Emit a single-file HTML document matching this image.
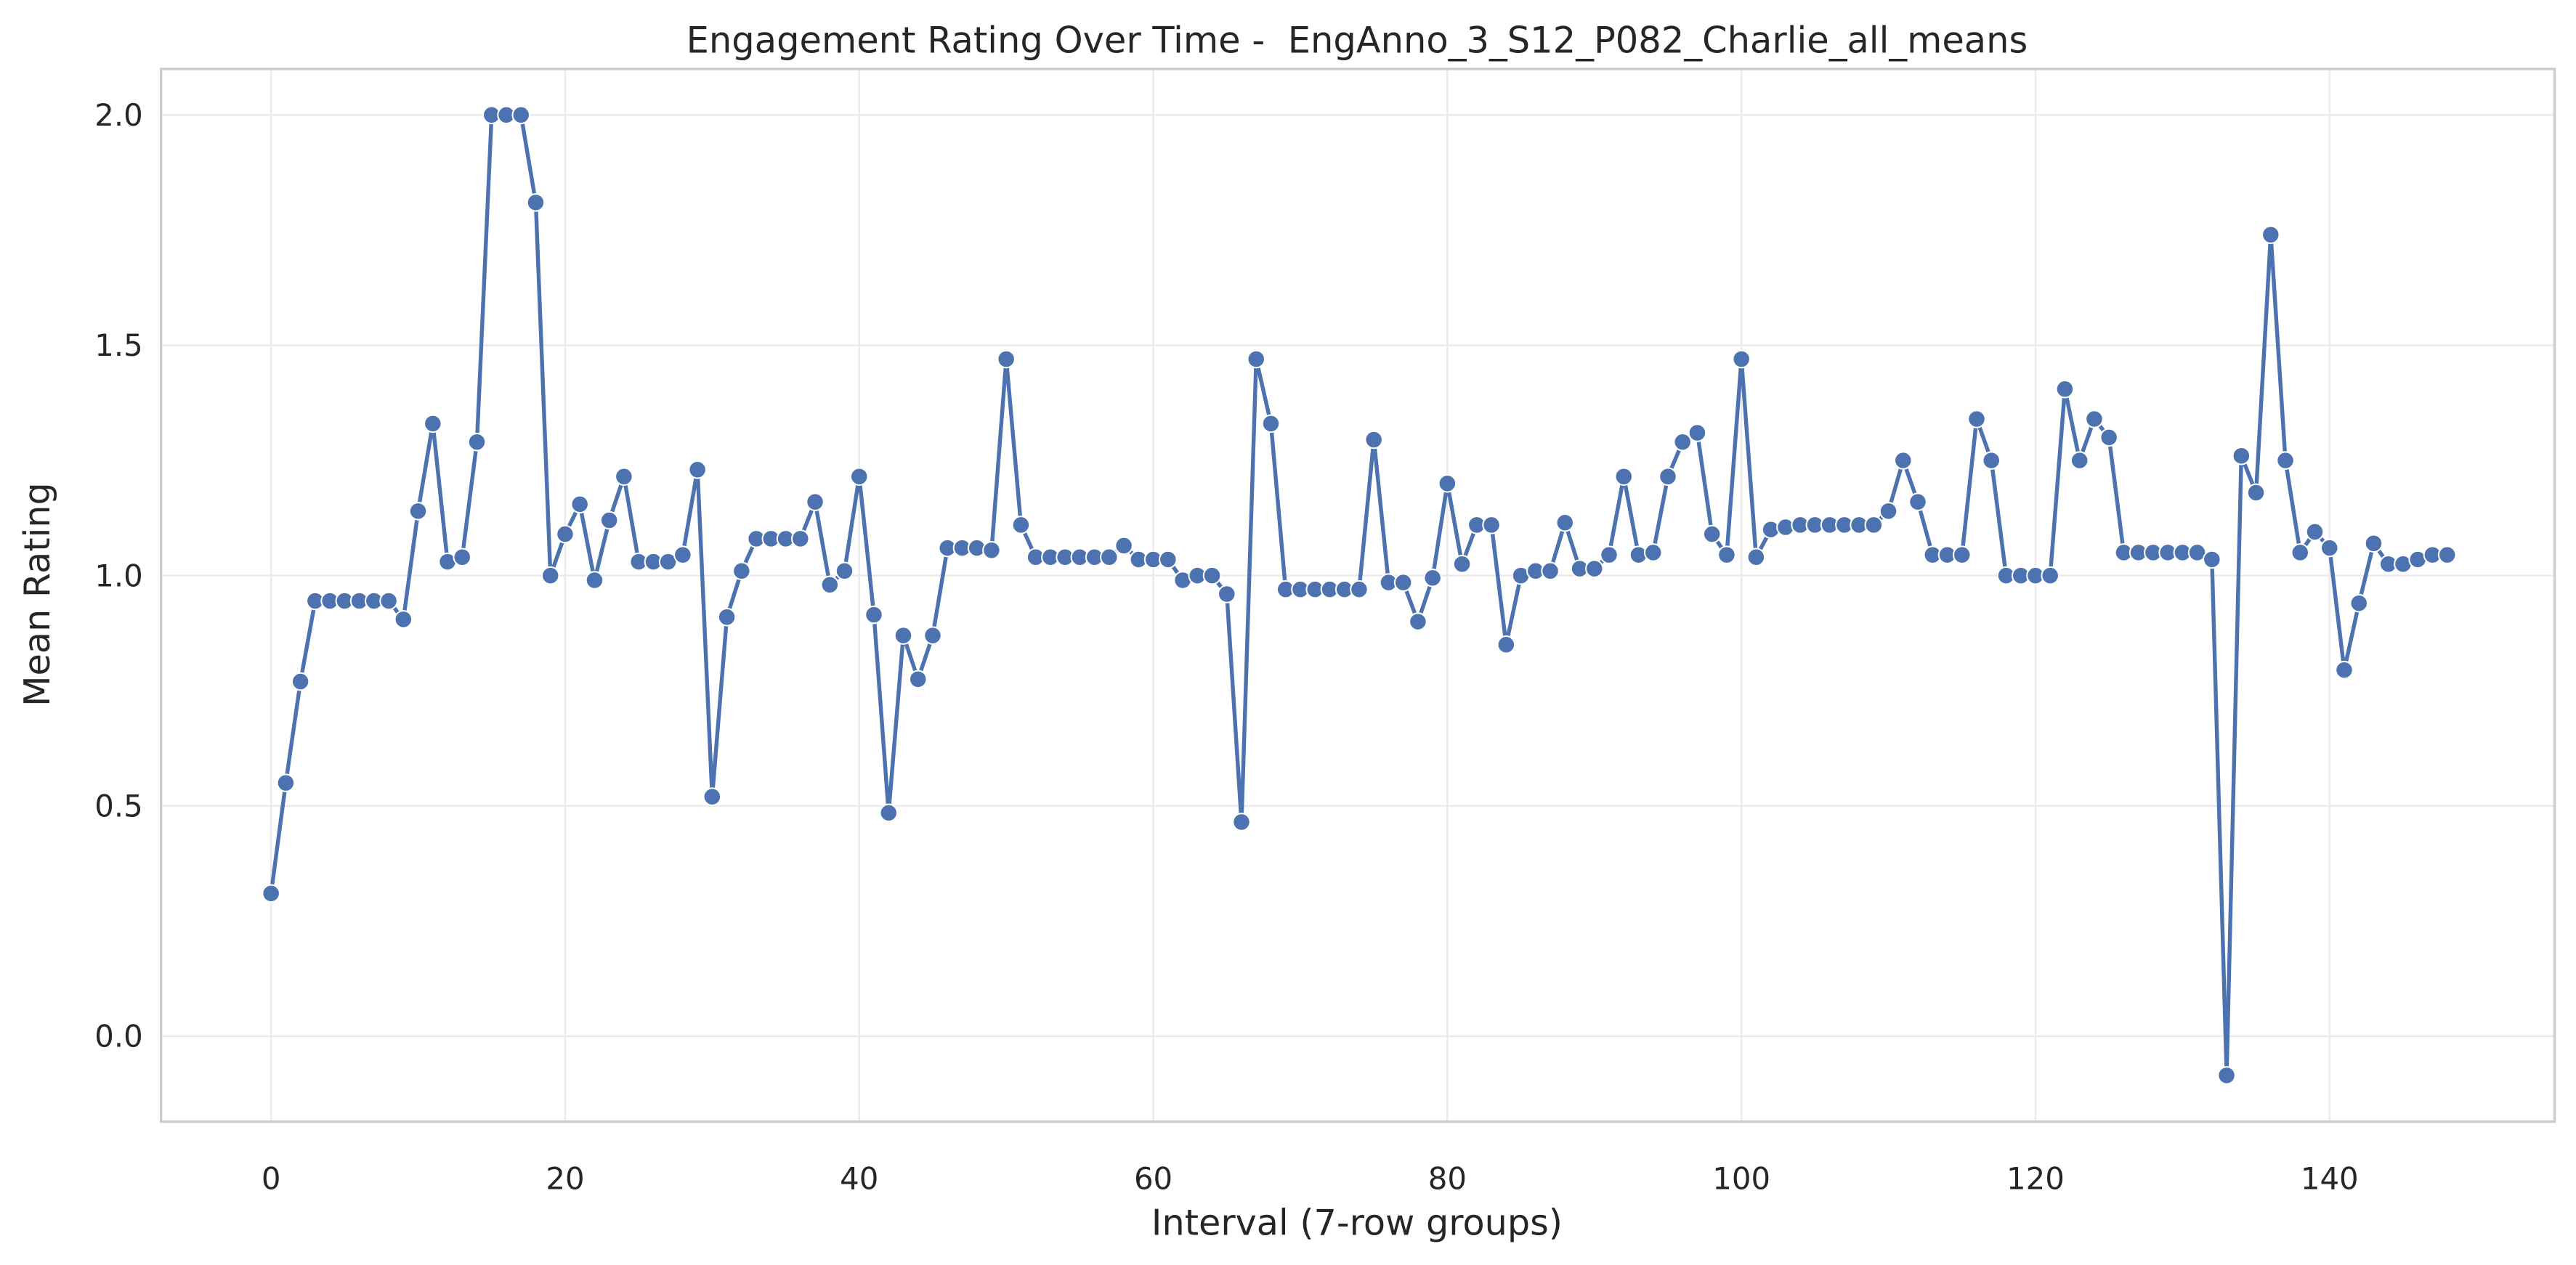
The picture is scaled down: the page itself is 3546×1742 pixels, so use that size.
<!DOCTYPE html>
<html><head><meta charset="utf-8"><style>
html,body{margin:0;padding:0;background:#fff}
svg{display:block;font-family:"DejaVu Sans","Liberation Sans",sans-serif}
</style></head><body>
<svg id="chart" width="3546" height="1742" viewBox="0 0 1568 770.3" xmlns="http://www.w3.org/2000/svg">
<rect x="0" y="0" width="1568" height="771" fill="#fff"/>
<g id="grid"></g>
<g id="series"></g>
<rect x="98" y="42" width="1457" height="641" fill="none" stroke="#cccccc" stroke-width="1.5"/>
<g id="ticks"></g>
<text x="826" y="32" text-anchor="middle" font-size="21.9" fill="#262626" xml:space="preserve">Engagement Rating Over Time -  EngAnno_3_S12_P082_Charlie_all_means</text>
<text x="826" y="752" text-anchor="middle" font-size="21.8" fill="#262626">Interval (7-row groups)</text>
<text x="0" y="0" transform="translate(30,362) rotate(-90)" text-anchor="middle" font-size="21.8" fill="#262626">Mean Rating</text>
</svg>
<script>
const values = [0.31,0.55,0.77,0.945,0.945,0.945,0.945,0.945,0.945,0.905,1.14,1.33,1.03,1.04,1.29,2.0,2.0,2.0,1.81,1.0,
1.09,1.155,0.99,1.12,1.215,1.03,1.03,1.03,1.045,1.23,0.52,0.91,1.01,1.08,1.08,1.08,1.08,1.16,0.98,1.01,
1.215,0.915,0.485,0.87,0.775,0.87,1.06,1.06,1.06,1.055,1.47,1.11,1.04,1.04,1.04,1.04,1.04,1.04,1.065,1.035,
1.035,1.035,0.99,1.0,1.0,0.96,0.465,1.47,1.33,0.97,0.97,0.97,0.97,0.97,0.97,1.295,0.985,0.985,0.9,0.995,
1.2,1.025,1.11,1.11,0.85,1.0,1.01,1.01,1.115,1.015,1.015,1.045,1.215,1.045,1.05,1.215,1.29,1.31,1.09,1.045,
1.47,1.04,1.1,1.105,1.11,1.11,1.11,1.11,1.11,1.11,1.14,1.25,1.16,1.045,1.045,1.045,1.34,1.25,1.0,1.0,
1.0,1.0,1.405,1.25,1.34,1.3,1.05,1.05,1.05,1.05,1.05,1.05,1.035,-0.085,1.26,1.18,1.74,1.25,1.05,1.095,
1.06,0.795,0.94,1.07,1.025,1.025,1.035,1.045,1.045];
const xTicks = [0,20,40,60,80,100,120,140];
const yTicks = [0.0,0.5,1.0,1.5,2.0];
const yTickLabels = ["0.0","0.5","1.0","1.5","2.0"];

const NS="http://www.w3.org/2000/svg";
const xs = v => 165 + v*(1418-165)/140;
const ys = v => 631 - v*(631-70)/2;
function mk(tag, attrs, parent){const e=document.createElementNS(NS,tag);for(const k in attrs)e.setAttribute(k,attrs[k]);parent.appendChild(e);return e;}
const grid=document.getElementById('grid'), ticks=document.getElementById('ticks'), series=document.getElementById('series');
xTicks.forEach(t=>{
  const l=mk('line',{x1:xs(t),x2:xs(t),y1:42,y2:683,stroke:'#ebebeb','stroke-width':1.1},grid);
  
  
  const tx=mk('text',{x:xs(t),y:724,'text-anchor':'middle','font-size':18.5,fill:'#262626'},ticks);
  tx.textContent=t;
  
  
});
yTicks.forEach((t,i)=>{
  const l=mk('line',{x1:98,x2:1555,y1:ys(t),y2:ys(t),stroke:'#ebebeb','stroke-width':1.1},grid);
  
  
  const tx=mk('text',{x:87,y:ys(t)+6.5,'text-anchor':'end','font-size':18.5,fill:'#262626'},ticks);
  tx.textContent=yTickLabels[i];
  
  
});
const pts=values.map((v,i)=>xs(i).toFixed(2)+','+ys(v).toFixed(2)).join(' ');
const line=mk('polyline',{points:pts,fill:'none',stroke:'#4c72b0','stroke-width':2.4,'stroke-linejoin':'round'},series);


values.forEach((v,i)=>{
  const c=mk('circle',{cx:xs(i),cy:ys(v),r:5.2,fill:'#4c72b0',stroke:'#fff','stroke-width':0.9},series);
  
  
});
</script>
</body></html>
